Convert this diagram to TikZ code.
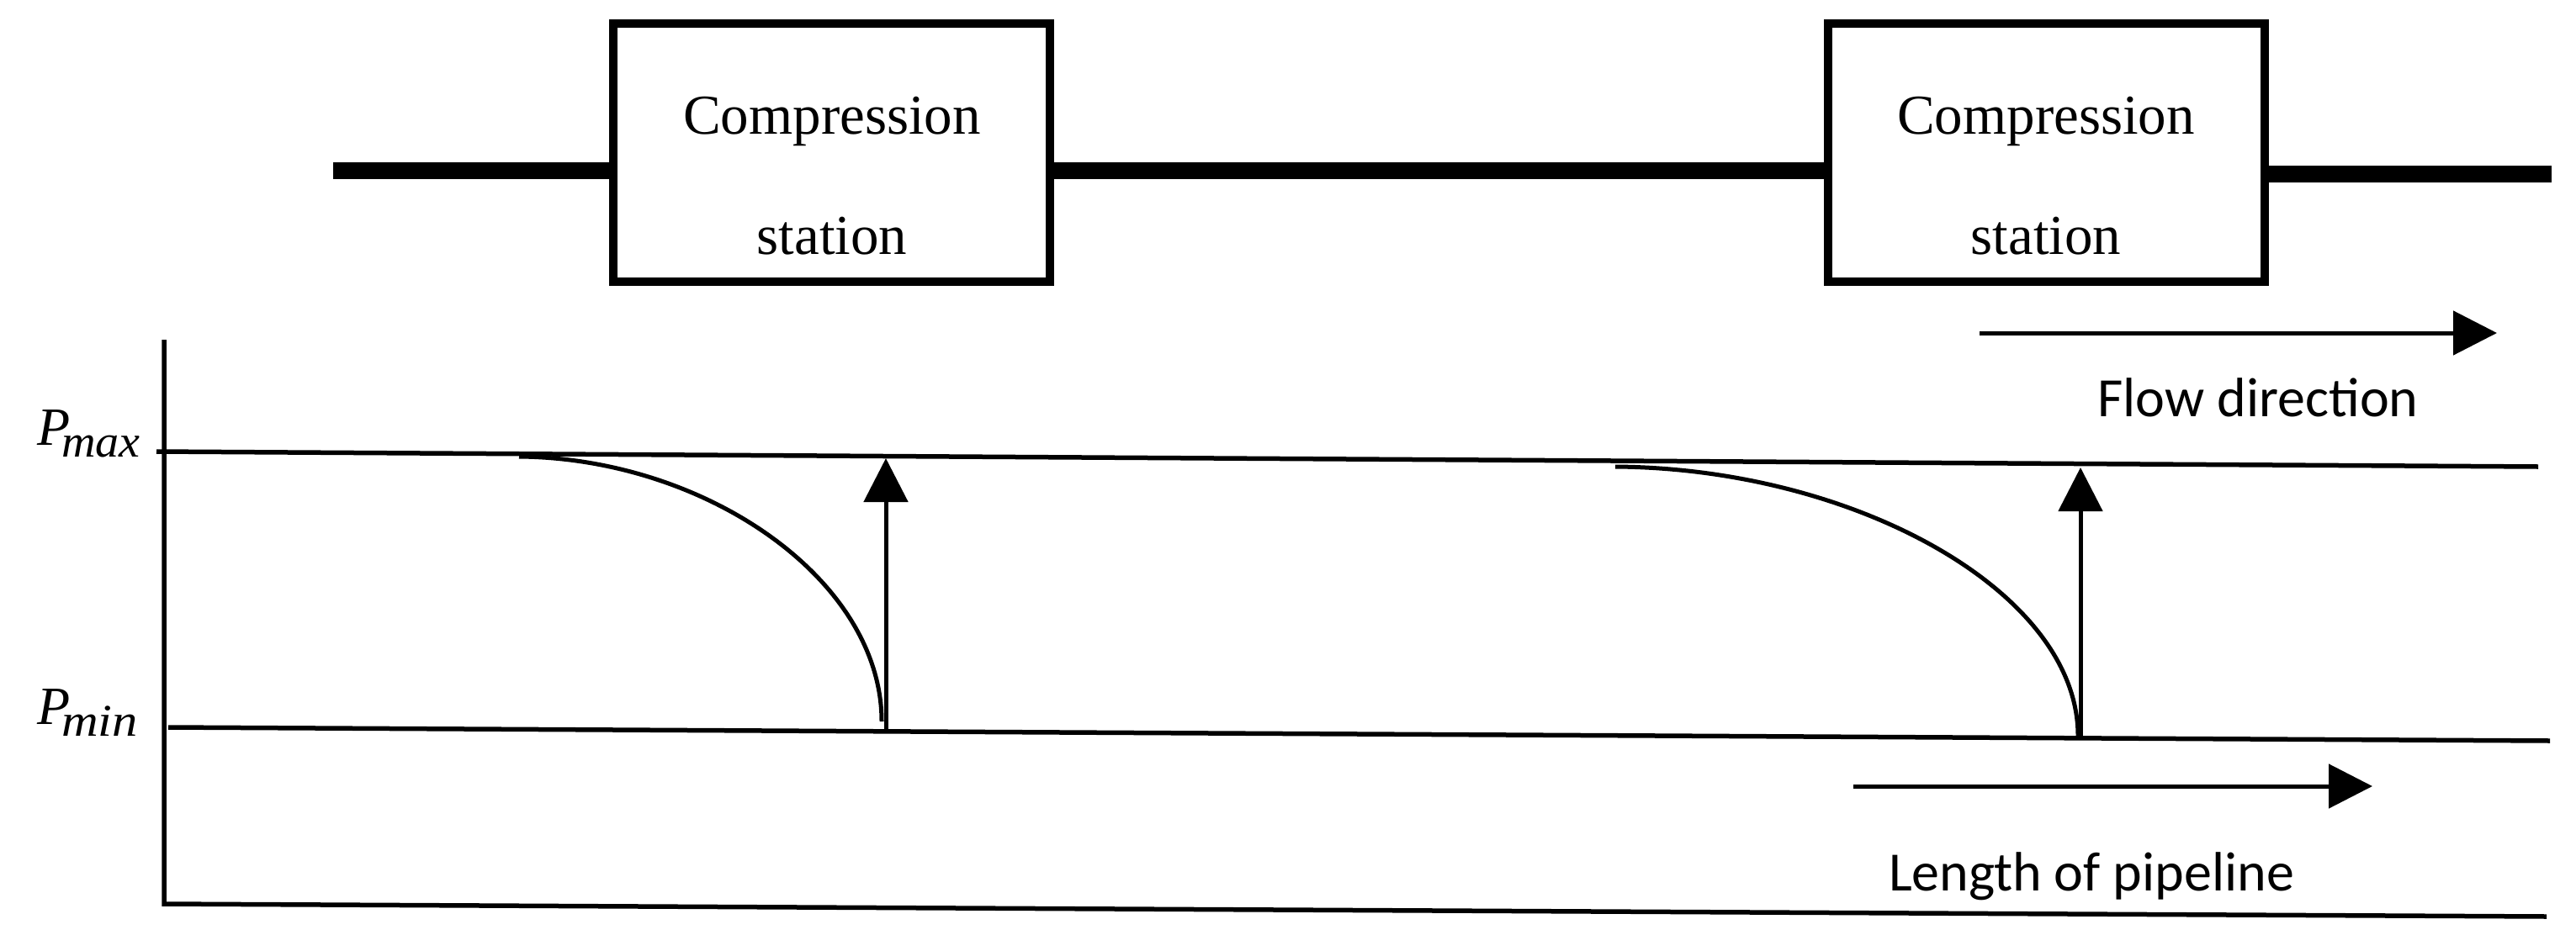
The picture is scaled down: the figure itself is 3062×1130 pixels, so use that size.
\documentclass[tikz,border=0pt]{standalone}
\usepackage{fontspec}
\setmainfont{Liberation Serif}
\newfontfamily\labelfont{Carlito}
\usetikzlibrary{arrows.meta}
\tikzset{
 stationbox/.style={draw=black,line width=10pt,fill=white,minimum width=519pt,minimum height=307pt,inner sep=0pt,outer sep=0pt},
 pipe/.style={line width=20pt,black},
 thinline/.style={line width=5.5pt,black},
 curveline/.style={line width=5pt,black},
 arrowline/.style={line width=5pt,black,-{Triangle[length=52pt,width=52pt]}},
 boxtext/.style={font=\fontsize{67}{67}\selectfont,inner sep=0pt},
 captext/.style={font=\fontsize{66}{66}\labelfont,inner sep=0pt},
 plabel/.style={inner sep=0pt,anchor=base west},
}
\begin{document}
\begin{tikzpicture}[x=1pt,y=-1pt]
\useasboundingbox (0,0) rectangle (3062,1130);
% pipeline
\coordinate (pipeA) at (396,203);
\coordinate (pipeB) at (3033,207);
\draw[pipe] (pipeA) -- (1200,203);
\draw[pipe] (1200,203) -- (2300,203);
\draw[pipe] (2500,207) -- (pipeB);
\node[stationbox] (box1) at (988.5,181.5) {};
\node[stationbox] (box2) at (2432,181.5) {};
\node[boxtext] (t1a) at (989,144) {Compression};
\node[boxtext] (t1b) at (989,281) {station};
\node[boxtext] (t2a) at (2432,144) {Compression};
\node[boxtext] (t2b) at (2432,281) {station};
% axes
\coordinate (axTop) at (195,404);
\coordinate (axOrigin) at (195,1075);
\coordinate (axEnd) at (3027,1090);
\draw[thinline,line join=miter] (axTop) -- (axOrigin) -- (axEnd);
% pressure limits
\coordinate (maxA) at (186,537);
\coordinate (maxB) at (3017,555);
\coordinate (minA) at (200,865);
\coordinate (minB) at (3031,881);
\draw[thinline] (maxA) -- (maxB);
\draw[thinline] (minA) -- (minB);
% pressure curves
\coordinate (c1a) at (617,543);
\coordinate (c1b) at (1048,858);
\coordinate (c2a) at (1920,555);
\coordinate (c2b) at (2470,875);
\draw[curveline] (c1a) .. controls (840,545) and (1048,690) .. (c1b);
\draw[curveline] (c2a) .. controls (2205,557) and (2470,704) .. (c2b);
% compressor rises
\coordinate (r1a) at (1053,867);
\coordinate (r1b) at (1053,545);
\coordinate (r2a) at (2473,880);
\coordinate (r2b) at (2473,556);
\draw[arrowline] (r1a) -- (r1b);
\draw[arrowline] (r2a) -- (r2b);
% direction arrows
\coordinate (fa) at (2353,396);
\coordinate (fb) at (2968,396);
\coordinate (la) at (2203,935);
\coordinate (lb) at (2820,935);
\draw[arrowline] (fa) -- (fb);
\draw[arrowline] (la) -- (lb);
\node[captext] (flow) at (2684,473) {Flow direction};
\node[captext] (len) at (2486,1042) {Length of pipeline};
% labels
\node[plabel] (pmax) at (44,529) {\fontsize{64}{64}\selectfont\itshape P\kern-10pt\raisebox{-14pt}{\scalebox{1.04}[1]{\fontsize{54}{54}\selectfont max}}};
\node[plabel] (pmin) at (44,861) {\fontsize{64}{64}\selectfont\itshape P\kern-10pt\raisebox{-14pt}{\scalebox{1.12}[1]{\fontsize{54}{54}\selectfont min}}};
\end{tikzpicture}
\end{document}
